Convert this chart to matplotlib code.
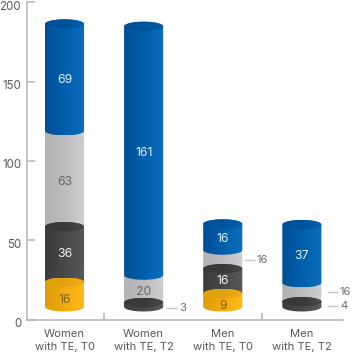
import numpy as np
import matplotlib
matplotlib.use("Agg")
import matplotlib.pyplot as plt
from matplotlib.patches import PathPatch
from matplotlib.path import Path
from matplotlib.transforms import ScaledTranslation

plt.rcParams['font.family'] = ['Inter', 'DejaVu Sans']

categories = ['Women\nwith TE, T0', 'Women\nwith TE, T2', 'Men\nwith TE, T0', 'Men\nwith TE, T2']
y_ticks = [0, 50, 100, 150, 200]

# printed numbers, bottom segment first
yellow_vals = [16, None, 9, None]
dark_vals = [36, 3, 16, 4]
grey_vals = [63, 20, 16, 16]
blue_vals = [69, 161, 16, 37]

# segment tops as they are drawn on the y axis (the cylinders float above 0)
base_level = [8, 8, 8, 8]
yellow_tops = [23.5, None, 16.3, None]
dark_tops = [58.5, 10.7, 32, 11.2]
grey_tops = [119, 28, 43.8, 23.2]
blue_tops = [186.3, 184.8, 60.2, 59.8]

half_w = 0.247
cap = 2.96

colors = {
    'blue': ('#004f96', '#005fac', '#0a6dbd', '#00529b'),
    'grey': ('#b3b3b5', '#bcbcbe', '#cfcfd1', '#bcbcbe'),
    'dark': ('#3b3c3e', '#47484a', '#58595b', '#39393b'),
    'yellow': ('#dd9c0a', '#f2ac10', '#fdbb18', '#e2a20e'),
}
text_colors = {'blue': '#e4eef8', 'grey': '#66676a', 'dark': '#f0f0f0', 'yellow': '#7d6420'}
axis_color = '#b4b4b4'
label_color = '#58595b'


def body_path(x, y0, y1):
    t = np.linspace(np.pi, 2 * np.pi, 40)
    t2 = np.linspace(0, np.pi, 40)
    bx = x + half_w * np.cos(t)
    by = y0 + cap * np.sin(t)
    tx = x + half_w * np.cos(t2)
    ty = y1 + cap * np.sin(t2)
    return Path(np.column_stack([np.r_[bx, tx], np.r_[by, ty]]))


def ellipse_path(x, y):
    t = np.linspace(0, 2 * np.pi, 80)
    return Path(np.column_stack([x + half_w * np.cos(t), y + cap * np.sin(t)]))


def gradient(ax, path, x, y0, y1, stops, z):
    cmap = matplotlib.colors.LinearSegmentedColormap.from_list('g', stops)
    im = ax.imshow(np.linspace(0, 1, 64).reshape(1, -1), cmap=cmap, aspect='auto',
                   extent=[x - half_w, x + half_w, y0 - cap, y1 + cap], zorder=z, origin='lower')
    clip = PathPatch(path, transform=ax.transData, fc='none', ec='none')
    ax.add_patch(clip)
    im.set_clip_path(clip)


def cylinder(ax, x, y0, y1, name, z):
    c = colors[name]
    gradient(ax, body_path(x, y0, y1), x, y0, y1, c[:3], z)
    # lid, slightly darker on the left
    gradient(ax, ellipse_path(x, y1), x, y0, y1, (c[3], c[3], c[1]), z + 0.5)


fig = plt.figure(figsize=(3.52, 3.53), dpi=100)
ax = fig.add_axes([26.7 / 352, (353 - 319.5) / 353, 316.3 / 352, 317.2 / 353])

for i in range(4):
    y_bottom = base_level[i]
    # grey is painted first, its lid is hidden by the blue part
    gradient(ax, body_path(i, dark_tops[i], grey_tops[i]), i, dark_tops[i], grey_tops[i],
             colors['grey'][:3], 2)
    gradient(ax, body_path(i, grey_tops[i], blue_tops[i]), i, grey_tops[i], blue_tops[i],
             colors['blue'][:3], 3)
    gradient(ax, ellipse_path(i, blue_tops[i]), i, grey_tops[i], blue_tops[i],
             (colors['blue'][3], colors['blue'][3], colors['blue'][1]), 3.5)

    start = yellow_tops[i] if yellow_tops[i] is not None else y_bottom
    cylinder(ax, i, start, dark_tops[i], 'dark', 4)
    if yellow_tops[i] is not None:
        cylinder(ax, i, y_bottom, yellow_tops[i], 'yellow', 5)

    # numbers inside the segments
    ax.text(i, (grey_tops[i] + blue_tops[i]) / 2 - 1.5, str(blue_vals[i]), color=text_colors['blue'],
            ha='center', va='center', fontsize=8.8, zorder=7)
    if grey_vals[i] >= 20:
        ax.text(i, (dark_tops[i] + grey_tops[i]) / 2 - 2, str(grey_vals[i]), color=text_colors['grey'],
                ha='center', va='center', fontsize=8.8, zorder=7)
    if dark_vals[i] >= 16:
        ax.text(i, (start + dark_tops[i]) / 2, str(dark_vals[i]), color=text_colors['dark'],
                ha='center', va='center', fontsize=8.8, zorder=7)
    if yellow_vals[i] is not None:
        ax.text(i, (y_bottom + yellow_tops[i]) / 2 - 3.5, str(yellow_vals[i]), color=text_colors['yellow'],
                ha='center', va='center', fontsize=8.8, zorder=7)

# callouts beside the bars: bar, height, number, gap from the bar
callouts = [(1, 7.5, dark_vals[1], 0.285), (2, 37.5, grey_vals[2], 0.265),
            (3, 17.3, grey_vals[3], 0.316), (3, 8.5, dark_vals[3], 0.316)]
for i, y, val, gap in callouts:
    ax.plot([i + gap, i + gap + 0.14], [y, y], color='#c4c4c4', lw=1.0, zorder=1, solid_capstyle='butt')
    ax.text(i + gap + 0.165, y, str(val), color='#6d6e70', ha='left', va='center', fontsize=8.2,
            clip_on=False)

ax.set_xlim(-0.478, 3.52)
ax.set_ylim(0, 200)
ax.set_yticks(y_ticks)
ax.set_xticks(range(4))
ax.set_xticklabels(categories, fontsize=8.1, color=label_color, linespacing=1.4)
ax.set_xticks([0.5, 2.5], minor=True)

ax.tick_params(axis='x', which='major', length=0, pad=7)
ax.tick_params(axis='x', which='minor', direction='in', length=5, width=1.1, color=axis_color)
ax.tick_params(axis='y', direction='in', length=6, width=1.1, color=axis_color,
               labelsize=8.3, labelcolor=label_color, pad=4)
for lab in ax.get_yticklabels():
    lab.set_transform(lab.get_transform() + ScaledTranslation(0, -2.2 / 72, fig.dpi_scale_trans))

for side in ['top', 'right']:
    ax.spines[side].set_visible(False)
for side in ['left', 'bottom']:
    ax.spines[side].set_color(axis_color)
    ax.spines[side].set_linewidth(1.1)

fig.savefig('out.png', dpi=100)
